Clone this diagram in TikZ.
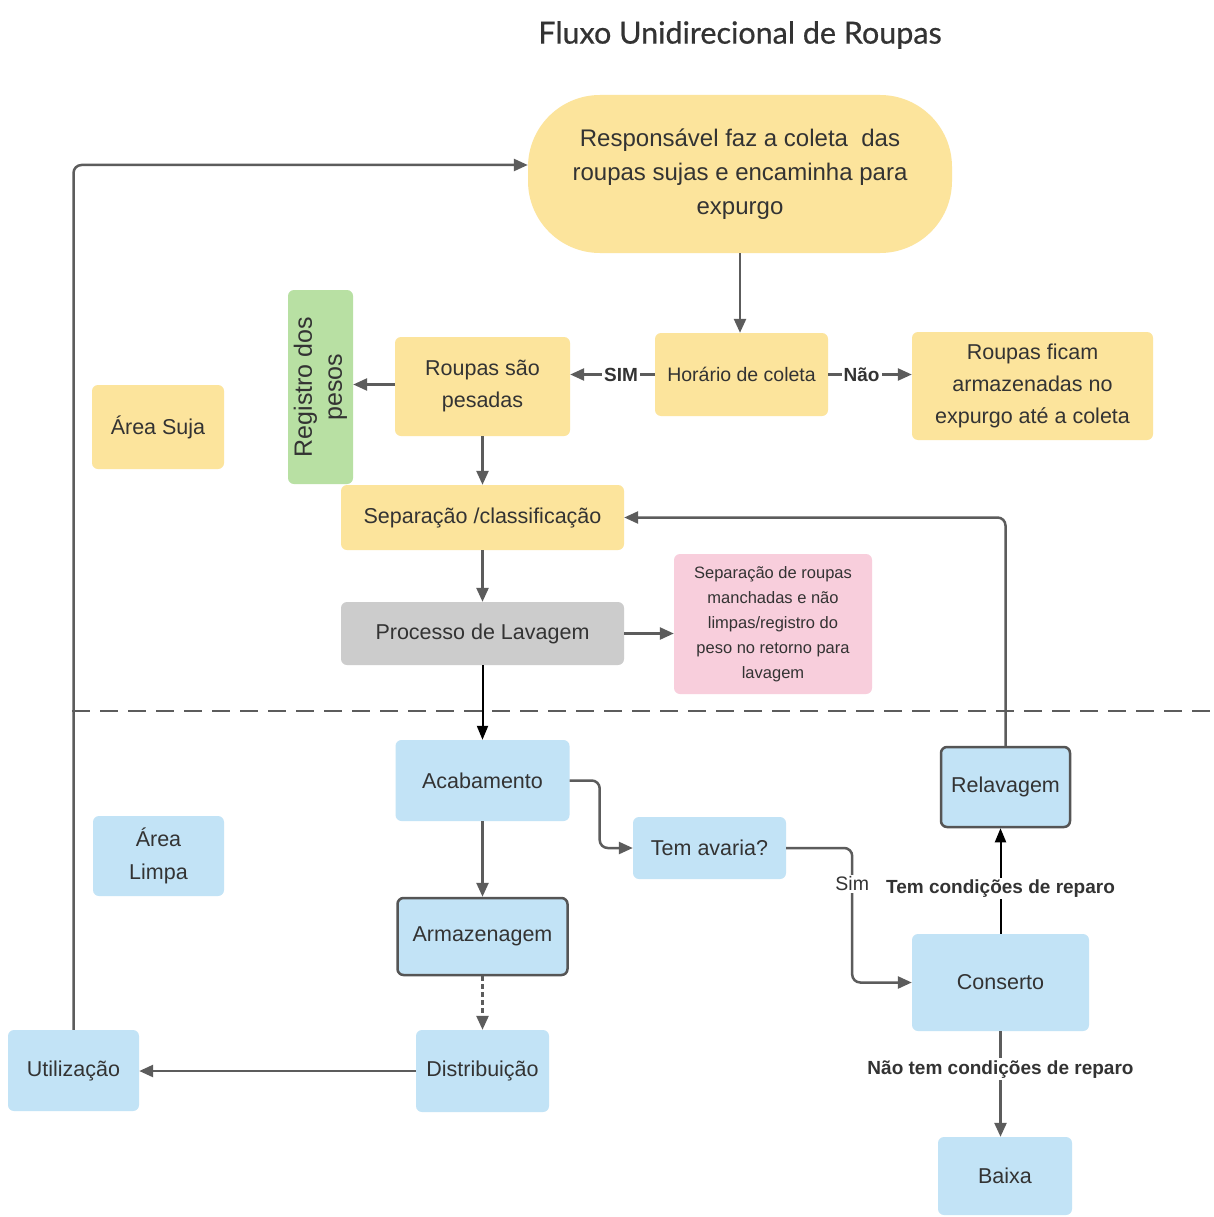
\documentclass[tikz,border=0pt]{standalone}
\usepackage{fontspec}
\setmainfont{Liberation Sans}
\newfontfamily\titlefont[FakeBold=0.6]{Lato}
\usetikzlibrary{arrows.meta,positioning}

\definecolor{yelfill}{RGB}{252,228,156}
\definecolor{blufill}{RGB}{194,227,246}
\definecolor{grnfill}{RGB}{184,224,163}
\definecolor{pnkfill}{RGB}{248,206,220}
\definecolor{gryfill}{RGB}{204,204,204}
\definecolor{txt}{RGB}{51,51,51}
\definecolor{lin}{RGB}{92,92,92}
\definecolor{edge}{RGB}{85,85,85}

\tikzset{
  base/.style={rectangle, rounded corners=6pt, inner sep=2pt, align=center,
    text=txt, font=\fontsize{21.5}{32}\selectfont},
  yel/.style={base, fill=yelfill},
  blu/.style={base, fill=blufill},
  blubord/.style={blu, draw=edge, line width=2.5pt},
  sz/.style 2 args={minimum width=#1, minimum height=#2},
  arr/.style={draw=lin, line width=2.5pt, -{Triangle[length=14pt,width=12pt]}},
  darr/.style={draw=black, line width=2pt, -{Triangle[length=14pt,width=11pt]}},
  lbl/.style={fill=white, inner sep=2pt, text=txt, rounded corners=0pt,
    font=\fontsize{19}{22}\selectfont\bfseries},
}

\begin{document}
\begin{tikzpicture}[x=1pt, y=-1pt]
\useasboundingbox[fill=white] (0,0) rectangle (1213,1217);

% title
\node[text=txt, font=\titlefont\fontsize{30.5}{36}\selectfont] (title) at (740,35) {Fluxo Unidirecional de Roupas};

% dirty area
\node[yel, sz={424pt}{158pt}, rounded corners=72pt, font=\fontsize{24}{34}\selectfont]
  (coleta) at (740,174) {Responsável faz a coleta\ \ das\\roupas sujas e encaminha para\\expurgo};
\node[yel, sz={173pt}{83pt}, font=\fontsize{19.5}{24}\selectfont] (horario) at (741.5,374.5) {Horário de coleta};
\node[yel, sz={241pt}{108pt}] (ficam) at (1032.5,386) {Roupas ficam\\armazenadas no\\expurgo até a coleta};
\node[yel, sz={175pt}{99pt}] (pesadas) at (482.5,386.5) {Roupas são\\pesadas};
% rotated box: its south side faces right
\node[base, fill=grnfill, rotate=90, sz={194pt}{65pt}, font=\fontsize{25}{30}\selectfont]
  (registro) at (320.5,387) {Registro dos\\pesos};
\node[yel, sz={132pt}{84pt}] (suja) at (158,427) {Área Suja};
\node[yel, sz={283pt}{65pt}] (separa) at (482.5,517.5) {Separação /classificação};
\node[base, fill=gryfill, sz={283pt}{63pt}] (lavagem) at (482.5,633.5) {Processo de Lavagem};
\node[base, fill=pnkfill, sz={198pt}{140pt}, font=\fontsize{16.5}{25}\selectfont]
  (manchas) at (773,624) {Separação de roupas\\manchadas e não\\limpas/registro do\\peso no retorno para\\lavagem};

% border between dirty and clean areas
\coordinate (sepL) at (72,711);
\coordinate (sepR) at (1213,711);
\draw[draw=lin, line width=2pt, dash pattern=on 18pt off 10pt] (sepL) -- (sepR);

% clean area
\node[blu, sz={174pt}{81pt}] (acab) at (482.5,780.5) {Acabamento};
\node[blu, sz={131pt}{80pt}, font=\fontsize{21.5}{33}\selectfont] (limpa) at (158.5,856) {Área\\Limpa};
\node[blu, sz={153pt}{62pt}] (avaria) at (709.5,848) {Tem avaria?};
\node[blubord, sz={170pt}{77pt}] (armaz) at (482.5,936.5) {Armazenagem};
\node[blu, sz={133pt}{82pt}] (distr) at (482.5,1071) {Distribuição};
\node[blu, sz={131pt}{81pt}] (util) at (73.5,1070.5) {Utilização};
\node[blu, sz={177pt}{97pt}] (conserto) at (1000.5,982.5) {Conserto};
\node[blubord, sz={129pt}{80pt}] (relav) at (1005.5,787) {Relavagem};
\node[blu, sz={134pt}{78pt}] (baixa) at (1005,1176) {Baixa};

% connectors
\coordinate (pesW) at ([yshift=2pt]pesadas.west);
\draw[arr] (coleta.south) -- (coleta.south |- horario.north);
\draw[arr] (horario.west) -- node[lbl, pos=0.4] {SIM} (pesadas.east |- horario.west);
\draw[arr] (horario.east) -- node[lbl, pos=0.4] {Não} (ficam.west |- horario.east);
\draw[arr] (pesW) -- (registro.south |- pesW);
\draw[arr] (pesadas.south) -- (separa.north);
\draw[arr] (separa.south) -- (lavagem.north);
\draw[arr] (lavagem.east) -- (manchas.west |- lavagem.east);
\draw[darr] (lavagem.south) -- (acab.north);
\draw[arr, rounded corners=8pt] (acab.east) -- ++(30,0) |- (avaria.west);
\draw[arr, rounded corners=8pt] (avaria.east) -- ++(66,0)
  |- node[pos=0.133, lbl, font=\fontsize{19.5}{22}\selectfont] {Sim} (conserto.west);
\draw[arr] (acab.south) -- (armaz.north);
\draw[arr, dash pattern=on 5pt off 3pt] (armaz.south) -- (distr.north);
\draw[arr] (distr.west) -- (util.east |- distr.west);
\draw[arr, rounded corners=8pt] (util.north) |- ([yshift=9pt]coleta.west);
\draw[darr] (conserto.north) -- node[lbl, pos=0.43] {Tem condições de reparo} (conserto.north |- relav.south);
\draw[arr, rounded corners=8pt] (relav.north) |- (separa.east);
\draw[arr] (conserto.south) -- node[lbl, pos=0.36] {Não tem condições de reparo} (conserto.south |- baixa.north);
\end{tikzpicture}
\end{document}
